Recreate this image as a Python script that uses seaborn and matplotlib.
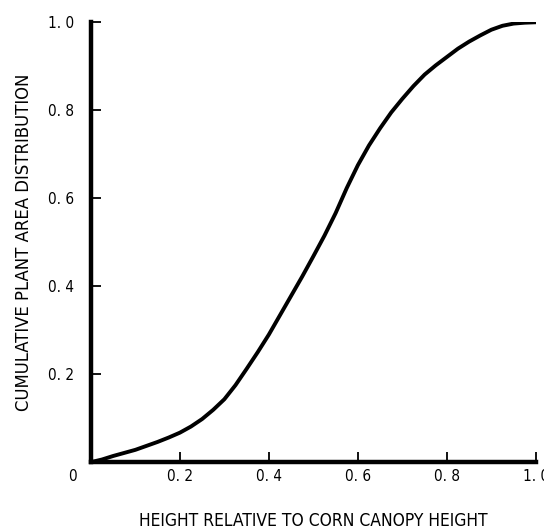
import matplotlib
matplotlib.use("Agg")
import matplotlib.pyplot as plt
import seaborn as sns
import pandas as pd

height = [0.0, 0.025, 0.05, 0.075, 0.10, 0.125, 0.15, 0.175, 0.20, 0.225,
          0.25, 0.275, 0.30, 0.325, 0.35, 0.375, 0.40, 0.425, 0.45, 0.475,
          0.50, 0.525, 0.55, 0.575, 0.60, 0.625, 0.65, 0.675, 0.70, 0.725,
          0.75, 0.775, 0.80, 0.825, 0.85, 0.875, 0.90, 0.925, 0.95, 0.975, 1.0]
cum_area = [0.0, 0.006, 0.014, 0.021, 0.028, 0.037, 0.046, 0.056, 0.067, 0.081,
            0.098, 0.119, 0.143, 0.175, 0.212, 0.250, 0.290, 0.334, 0.378, 0.422,
            0.468, 0.515, 0.566, 0.623, 0.675, 0.720, 0.759, 0.795, 0.826, 0.855,
            0.881, 0.902, 0.921, 0.940, 0.956, 0.970, 0.983, 0.992, 0.997, 0.999, 1.0]
x_ticks = [0.0, 0.2, 0.4, 0.6, 0.8, 1.0]
x_ticklabels = ["", "0. 2", "0. 4", "0. 6", "0. 8", "1. 0"]
y_ticks = [0.0, 0.2, 0.4, 0.6, 0.8, 1.0]
y_ticklabels = ["", "0. 2", "0. 4", "0. 6", "0. 8", "1. 0"]
xlabel = "HEIGHT RELATIVE TO CORN CANOPY HEIGHT"
ylabel = "CUMULATIVE PLANT AREA DISTRIBUTION"

sns.set_style("ticks")
plt.rcParams["font.family"] = ["DejaVu Sans"]
plt.rcParams["font.stretch"] = "condensed"
plt.rcParams["text.color"] = "black"
plt.rcParams["axes.labelcolor"] = "black"

df = pd.DataFrame({"h": height, "c": cum_area})

fig = plt.figure(figsize=(5.44, 5.30), dpi=100)
ax = fig.add_axes([0.167, 0.128, 0.818, 0.830])
sns.lineplot(data=df, x="h", y="c", ax=ax, color="black", linewidth=2.8)

ax.set_xlim(0, 1.0)
ax.set_ylim(0, 1.0)
ax.set_xticks(x_ticks)
ax.set_xticklabels(x_ticklabels)
ax.set_yticks(y_ticks)
ax.set_yticklabels(y_ticklabels)
ax.tick_params(direction="in", length=7, width=1.3, labelsize=11, colors="black")
ax.tick_params(axis="x", pad=5)
ax.tick_params(axis="y", pad=12)
sns.despine(ax=ax)
for s in ["left", "bottom"]:
    ax.spines[s].set_linewidth(3.2)
    ax.spines[s].set_color("black")

ax.annotate("0", xy=(0, 0), xycoords="data", xytext=(-13, -10),
            textcoords="offset points", ha="center", va="center", fontsize=11)

ax.set_xlabel(xlabel, fontsize=12.5, labelpad=20)
ax.set_ylabel(ylabel, fontsize=13.2, labelpad=11)

fig.savefig("out.png", dpi=100)
